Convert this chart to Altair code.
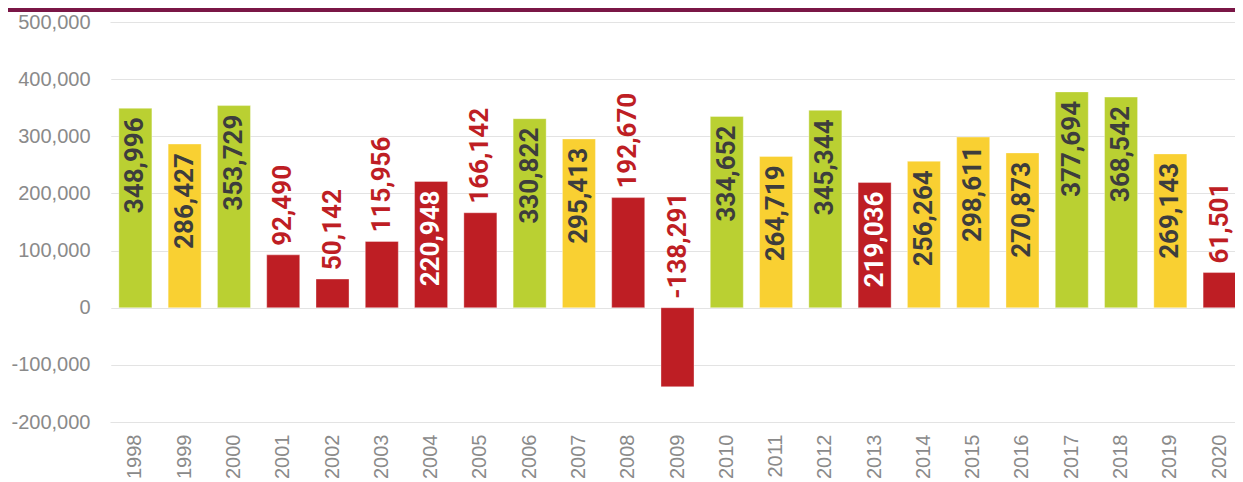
import altair as alt
import pandas as pd

years = [str(y) for y in range(1998, 2021)]
values = [348996, 286427, 353729, 92490, 50142, 115956, 220948, 166142, 330822,
          295413, 192670, -138291, 334652, 264719, 345344, 219036, 256264, 298611,
          270873, 377694, 368542, 269143, 61501]
categories = ["green", "yellow", "green", "red", "red", "red", "red", "red", "green",
              "yellow", "red", "red", "green", "yellow", "green", "red", "yellow", "yellow",
              "yellow", "green", "green", "yellow", "red"]

GREEN, YELLOW, RED = "#bad032", "#f9d032", "#be1e24"
DARK = "#3d3d3d"

df = pd.DataFrame({"year": years, "value": values, "cat": categories})

x = alt.X("year:N", sort=years,
          scale=alt.Scale(paddingInner=0.33, paddingOuter=0.18),
          axis=alt.Axis(title=None, labelAngle=-90, labelFontSize=20, labelColor="#8a8a8a",
                        labelFont="Liberation Sans", ticks=False, domain=False, labelPadding=12,
                        grid=False))
yscale = alt.Scale(domain=[-200000, 500000], nice=False, zero=False)

base = alt.Chart(df)

bars = base.mark_bar(stroke="white", strokeOpacity=0.35, strokeWidth=1).encode(
    x=x,
    y=alt.Y("value:Q", scale=yscale,
            axis=alt.Axis(title=None, values=list(range(-200000, 500001, 100000)), format=",d",
                          labelExpr="replace(datum.label, '\u2212', '-')",
                          labelFontSize=20, labelColor="#8a8a8a", labelFont="Liberation Sans",
                          ticks=False, domain=False, labelPadding=20,
                          gridColor="#e3e3e3", gridWidth=1.2)),
    y2=alt.datum(0),
    color=alt.Color("cat:N", scale=alt.Scale(domain=["green", "yellow", "red"],
                                             range=[GREEN, YELLOW, RED]), legend=None),
)

labeled = base.transform_calculate(
    label="replace(format(datum.value, ',d'), '\u2212', '-')",
    ly="max(datum.value, 0)",
    inside="datum.value >= 200000",
    tcolor="datum.value >= 200000 ? (datum.cat == 'red' ? 'white' : '%s') : '%s'" % (DARK, RED),
)

text_in = labeled.transform_filter("datum.inside").mark_text(
    angle=270, align="right", baseline="middle", dx=-9, font="Roboto", fontSize=26,
    fontWeight="bold").encode(
    x=alt.X("year:N", sort=years),
    y=alt.Y("ly:Q", scale=yscale),
    text="label:N",
    color=alt.Color("tcolor:N", scale=None),
)

text_out = labeled.transform_filter("!datum.inside").mark_text(
    angle=270, align="left", baseline="middle", dx=9, font="Roboto", fontSize=26,
    fontWeight="bold").encode(
    x=alt.X("year:N", sort=years),
    y=alt.Y("ly:Q", scale=yscale),
    text="label:N",
    color=alt.Color("tcolor:N", scale=None),
)

deco = pd.DataFrame({"a": [0]})
top_rule = alt.Chart(deco).mark_rule(color="#7a1646", strokeWidth=4).encode(
    x=alt.value(-110), x2=alt.value(1140), y=alt.value(-12), y2=alt.value(-12))
left_mask = alt.Chart(deco).mark_rule(color="white", strokeWidth=2.5).encode(
    x=alt.value(0), x2=alt.value(0), y=alt.value(1), y2=alt.value(399))

chart = alt.layer(bars, text_in, text_out, top_rule, left_mask).properties(
    width=1135, height=400,
    padding={"left": 102, "top": 14, "right": -10, "bottom": 60},
    autosize=alt.AutoSizeParams(type="none"),
    background="white",
    view=alt.ViewBackground(stroke="transparent", strokeWidth=0),
).configure_view(strokeWidth=0, stroke="transparent").configure_axis(
    domain=False, ticks=False).configure_axisY(domain=False, domainWidth=0).configure_axisX(
    grid=False, domain=False)

chart.save("out.html", embed_options={"renderer": "svg", "actions": False})
